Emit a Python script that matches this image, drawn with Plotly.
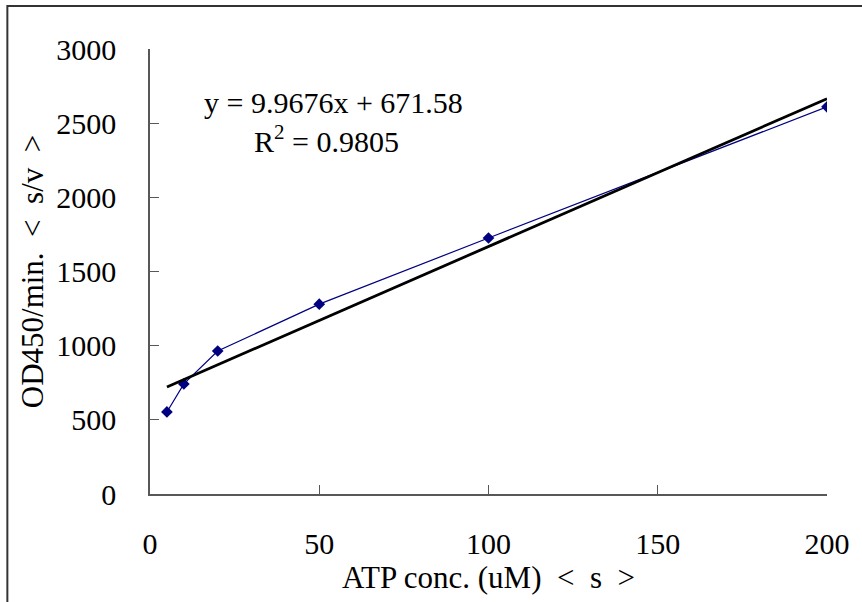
import plotly.graph_objects as go

# Data
atp_conc = [5, 10, 20, 50, 100, 200]
od_rate = [553, 742, 964, 1280, 1726, 2610]
slope = 9.9676
intercept = 671.58
r_squared = 0.9805
x_ticks = [0, 50, 100, 150, 200]
y_ticks = [0, 500, 1000, 1500, 2000, 2500, 3000]

FONT = "Liberation Serif, Times New Roman, serif"
AXIS_COLOR = "#575757"

trend_x = [min(atp_conc), max(atp_conc)]
trend_y = [slope * v + intercept for v in trend_x]

fig = go.Figure()
fig.add_trace(go.Scatter(
    x=atp_conc, y=od_rate, mode="lines+markers",
    line=dict(color="#000080", width=1.2),
    marker=dict(symbol="diamond", size=9, color="#000080"),
    showlegend=False,
))
fig.add_trace(go.Scatter(
    x=trend_x, y=trend_y, mode="lines",
    line=dict(color="#000000", width=2.8),
    showlegend=False,
))

fig.add_annotation(
    x=54.3, y=2636, xref="x", yref="y",
    text=f"y = {slope}x + {intercept}", showarrow=False,
    font=dict(family=FONT, size=30, color="#000"),
)
fig.add_annotation(
    x=52.0, y=2395, xref="x", yref="y",
    text=f"R<sup>2</sup> = {r_squared}", showarrow=False,
    font=dict(family=FONT, size=30, color="#000"),
)

# outer frame (top and left visible, right/bottom cut off by the page)
fig.add_shape(
    type="rect", xref="paper", yref="paper",
    x0=-0.2107, x1=1.2, y0=-0.4, y1=1.0966,
    line=dict(color="#333333", width=2),
)

fig.update_layout(
    width=862, height=602,
    margin=dict(l=150, r=31, t=49, b=108),
    paper_bgcolor="white", plot_bgcolor="white",
    font=dict(family=FONT, size=30, color="#000"),
)
fig.update_xaxes(
    range=[0, 200], tickvals=x_ticks, ticks="inside", ticklen=9,
    tickcolor=AXIS_COLOR, showline=True, linecolor=AXIS_COLOR, linewidth=1.5,
    showgrid=False, zeroline=False, ticklabelstandoff=22,
    title=dict(text="ATP conc. (uM)\u00a0\u00a0<\u00a0\u00a0s\u00a0\u00a0>",
               font=dict(size=31), standoff=2),
)
fig.update_yaxes(
    range=[0, 3000], tickvals=y_ticks, ticks="inside", ticklen=9,
    tickcolor=AXIS_COLOR, showline=True, linecolor=AXIS_COLOR, linewidth=1.5,
    showgrid=False, zeroline=False, ticklabelstandoff=26,
    title=dict(text="OD450/min.\u00a0\u00a0<\u00a0\u00a0s/v\u00a0\u00a0>",
               font=dict(size=31), standoff=3),
)

fig.write_html(
    "out.html",
    config={"displayModeBar": False},
    post_script="document.body.style.margin='0';document.body.style.padding='0';",
)
